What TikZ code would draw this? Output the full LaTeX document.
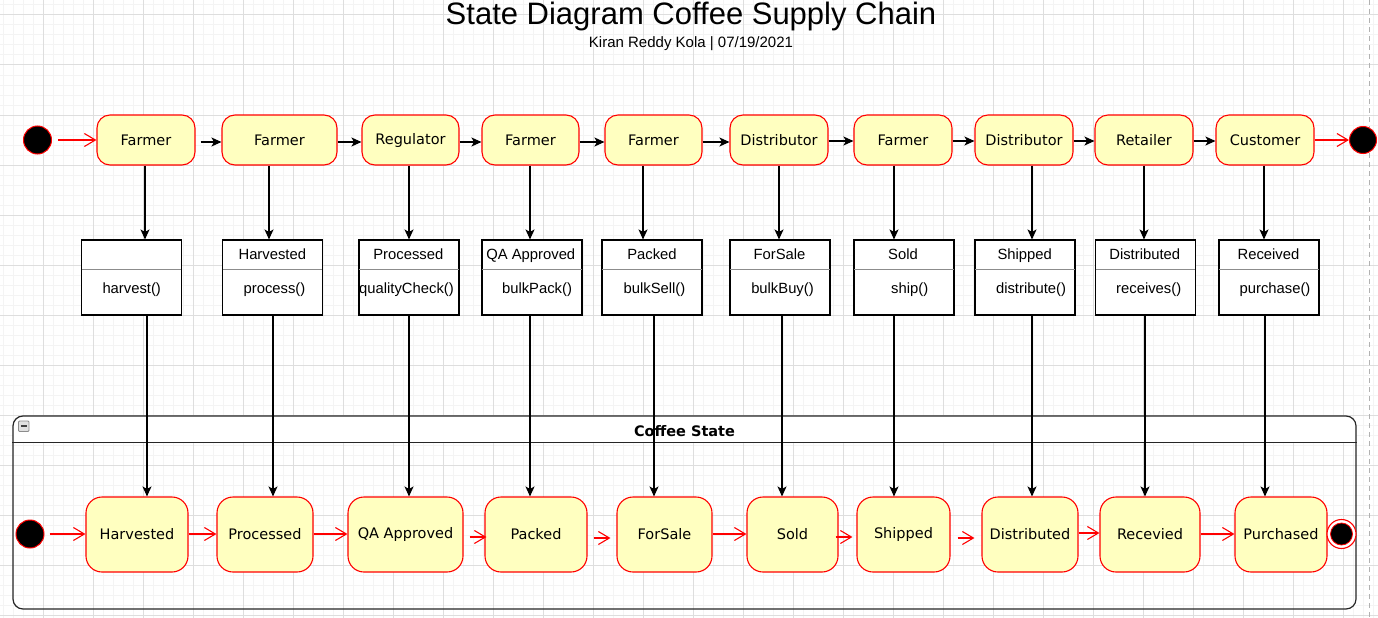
\documentclass[tikz,border=0pt]{standalone}
\usepackage{fontspec}
\setmainfont{DejaVu Sans}
\newfontfamily\arialf{Liberation Sans}
\usetikzlibrary{arrows.meta}
\definecolor{stfill}{HTML}{FFFFC0}
\definecolor{stred}{HTML}{FF0000}
\definecolor{gmin}{HTML}{F4F4F4}
\definecolor{gmaj}{HTML}{DEDEDE}
\tikzset{
 topst/.style={draw=stred, fill=stfill, rounded corners=13pt, line width=1.1pt, minimum height=50pt, inner sep=0pt, font=\fontsize{14.5}{17}\selectfont},
 botst/.style={draw=stred, fill=stfill, rounded corners=16pt, line width=1.1pt, minimum height=75pt, inner sep=0pt, font=\fontsize{14.5}{17}\selectfont},
 clsbox/.style={draw=black, fill=white, line width=1.1pt, minimum width=100pt, minimum height=75pt, inner sep=0pt},
 clstxt/.style={font=\arialf\fontsize{14.8}{17}\selectfont, inner sep=0pt, anchor=base},
 blk/.style={draw=black, line width=1.1pt, -{Stealth[length=10pt,width=9pt,inset=2.5pt]}},
 rarr/.style={draw=stred, line width=1.1pt, -{Straight Barb[length=11pt,width=13pt]}},
 initst/.style={circle, draw=stred, fill=black, line width=1pt, minimum size=28pt, inner sep=0pt},
}
\begin{document}
\begin{tikzpicture}[x=1pt,y=-1pt]
\useasboundingbox (0,0) rectangle (1378,618);
\fill[white] (0,0) rectangle (1378,618);
% grid
\foreach \x in {3.3,13.3,...,1375} \draw[gmin, line width=1pt] (\x,0) -- (\x,618);
\foreach \y in {5,15,...,618} \draw[gmin, line width=1pt] (0,\y) -- (1378,\y);
\foreach \x in {43.3,93.3,...,1375} \draw[gmaj, line width=1pt] (\x,0) -- (\x,618);
\foreach \y in {15,65,...,618} \draw[gmaj, line width=1pt] (0,\y) -- (1378,\y);
\draw[black!30, line width=1pt, dash pattern=on 5pt off 4pt] (1369,0) -- (1369,618);

% title
\node[font=\arialf\fontsize{31}{34}\selectfont, anchor=base, inner sep=0pt] (title) at (691,25) {State Diagram Coffee Supply Chain};
\node[font=\arialf\fontsize{15}{17}\selectfont, anchor=base, inner sep=0pt] (sub) at (691,47.5) {Kiran Reddy Kola | 07/19/2021};

% container
\fill[white] (13,443) [rounded corners=10pt] -- (13,416) -- (1356,416) [sharp corners] -- (1356,443) -- cycle;
\node[draw=black!85, rounded corners=10pt, line width=1.2pt, minimum width=1343pt, minimum height=193pt, inner sep=0pt] (cs) at (684.5,512.5) {};
\draw[black!85, line width=1.2pt] ([yshift=-27pt]cs.north west) -- ([yshift=-27pt]cs.north east);
\node[font=\bfseries\fontsize{14.5}{17}\selectfont, inner sep=0pt] (cstitle) at (684.5,431) {Coffee State};
\draw[draw=black!45, fill=black!12, rounded corners=1pt, line width=0.8pt] (18.5,421) rectangle (29,431.5);
\draw[black!75, line width=1.6pt] (20.8,426.2) -- (26.8,426.2);

% top row
\node[initst] (i1) at (37.5,140) {};
\node[topst, minimum width=98pt] (t1) at (146,140) {Farmer};
\node[topst, minimum width=115pt] (t2) at (279.5,140) {Farmer};
\node[topst, minimum width=97pt] (t3) at (410.5,140) {Regulator};
\node[topst, minimum width=97pt] (t4) at (530.5,140) {Farmer};
\node[topst, minimum width=97pt] (t5) at (653.5,140) {Farmer};
\node[topst, minimum width=98pt] (t6) at (779,140) {Distributor};
\node[topst, minimum width=98pt] (t7) at (903,140) {Farmer};
\node[topst, minimum width=98pt] (t8) at (1024,140) {Distributor};
\node[topst, minimum width=98pt] (t9) at (1144,140) {Retailer};
\node[topst, minimum width=98pt] (t10) at (1265,140) {Customer};
\node[initst, minimum size=27pt] (f1) at (1363,140) {};

\draw[rarr, shorten <=6pt] (i1) -- (t1);
\draw[blk, shorten <=5pt] ([yshift=-2pt]t1.east) -- ([yshift=-2pt]t2.west);
\draw[blk] ([yshift=-2pt]t2.east) -- ([yshift=-2pt]t3.west);
\draw[blk] ([yshift=-2pt]t3.east) -- ([yshift=-2pt]t4.west);
\draw[blk] ([yshift=-2pt]t4.east) -- ([yshift=-2pt]t5.west);
\draw[blk] ([yshift=-2pt]t5.east) -- ([yshift=-2pt]t6.west);
\draw[blk] ([yshift=-1pt]t6.east) -- ([yshift=-1pt]t7.west);
\draw[blk] ([yshift=-1pt]t7.east) -- ([yshift=-1pt]t8.west);
\draw[blk] ([yshift=-1pt]t8.east) -- ([yshift=-1pt]t9.west);
\draw[blk] ([yshift=-1pt]t9.east) -- ([yshift=-1pt]t10.west);
\draw[rarr] (t10) -- (f1);

% class boxes
\node[clsbox] (c1) at (131.5,277.5) {};
\node[clsbox] (c2) at (272.5,277.5) {};
\node[clsbox] (c3) at (409,277.5) {};
\node[clsbox] (c4) at (532,277.5) {};
\node[clsbox] (c5) at (652,277.5) {};
\node[clsbox] (c6) at (780,277.5) {};
\node[clsbox] (c7) at (904,277.5) {};
\node[clsbox] (c8) at (1025,277.5) {};
\node[clsbox] (c9) at (1145.5,277.5) {};
\node[clsbox] (c10) at (1269,277.5) {};
\foreach \c in {c1,c2,c3,c4,c5,c6,c7,c8,c9,c10}
  \draw[black!45, line width=1pt] ([yshift=-30pt,xshift=0.6pt]\c.north west) -- ([yshift=-30pt,xshift=-0.6pt]\c.north east);

\node[clstxt] (m1) at (131.7,293.5) {harvest()};
\node[clstxt] (n2) at (272.3,259) {Harvested};
\node[clstxt] (m2) at (274.5,293.5) {process()};
\node[clstxt] (n3) at (408.3,259) {Processed};
\node[clstxt] (m3) at (406.5,293.5) {qualityCheck()};
\node[clstxt] (n4) at (530.8,259) {QA Approved};
\node[clstxt] (m4) at (537,293.5) {bulkPack()};
\node[clstxt] (n5) at (652,259) {Packed};
\node[clstxt] (m5) at (654.5,293.5) {bulkSell()};
\node[clstxt] (n6) at (779.5,259) {ForSale};
\node[clstxt] (m6) at (782.5,293.5) {bulkBuy()};
\node[clstxt] (n7) at (903,259) {Sold};
\node[clstxt] (m7) at (909.7,293.5) {ship()};
\node[clstxt] (n8) at (1024.7,259) {Shipped};
\node[clstxt] (m8) at (1031,293.5) {distribute()};
\node[clstxt] (n9) at (1144.7,259) {Distributed};
\node[clstxt] (m9) at (1148.7,293.5) {receives()};
\node[clstxt] (n10) at (1268.5,259) {Received};
\node[clstxt] (m10) at (1275,293.5) {purchase()};

% top -> class
\draw[blk] ([xshift=-1pt]t1.south) -- ([xshift=13.5pt]c1.north);
\draw[blk] ([xshift=-10.5pt]t2.south) -- ([xshift=-3.5pt]c2.north);
\draw[blk] ([xshift=-1.5pt]t3.south) -- ([xshift=0pt]c3.north);
\draw[blk] ([xshift=-0.5pt]t4.south) -- ([xshift=-2pt]c4.north);
\draw[blk] ([xshift=-10.5pt]t5.south) -- ([xshift=-9pt]c5.north);
\draw[blk] ([xshift=0pt]t6.south) -- ([xshift=-1pt]c6.north);
\draw[blk] ([xshift=-9pt]t7.south) -- ([xshift=-10pt]c7.north);
\draw[blk] ([xshift=8pt]t8.south) -- ([xshift=7pt]c8.north);
\draw[blk] ([xshift=0pt]t9.south) -- ([xshift=-1.5pt]c9.north);
\draw[blk] ([xshift=-1pt]t10.south) -- ([xshift=-5pt]c10.north);

% bottom states
\node[initst] (i2) at (30,534) {};
\node[botst, minimum width=102pt] (b1) at (137,534.5) {Harvested};
\node[botst, minimum width=96pt] (b2) at (265,534.5) {Processed};
\node[botst, minimum width=115pt] (b3) at (405.5,534.5) {QA Approved};
\node[botst, minimum width=102pt] (b4) at (536,534.5) {Packed};
\node[botst, minimum width=95pt] (b5) at (664.5,534.5) {ForSale};
\node[botst, minimum width=91pt] (b6) at (792.5,534.5) {Sold};
\node[botst, minimum width=93pt] (b7) at (903.5,534.5) {Shipped};
\node[botst, minimum width=96pt] (b8) at (1030,534.5) {Distributed};
\node[botst, minimum width=100pt] (b9) at (1150,534.5) {Recevied};
\node[botst, minimum width=92pt] (b10) at (1281,534.5) {Purchased};
\node[circle, draw=stred, fill=white, line width=1.1pt, minimum size=29pt, inner sep=0pt] (fin2) at (1341.5,534) {};
\node[circle, draw=stred, fill=black, line width=0.8pt, minimum size=22pt, inner sep=0pt] (fin2in) at (1341.5,534) {};

% class -> bottom
\draw[blk] ([xshift=15.5pt]c1.south) -- ([xshift=10pt]b1.north);
\draw[blk] ([xshift=0.5pt]c2.south) -- ([xshift=8pt]b2.north);
\draw[blk] ([xshift=0pt]c3.south) -- ([xshift=3.5pt]b3.north);
\draw[blk] ([xshift=-2pt]c4.south) -- ([xshift=-6pt]b4.north);
\draw[blk] ([xshift=2pt]c5.south) -- ([xshift=-10.5pt]b5.north);
\draw[blk] ([xshift=2pt]c6.south) -- ([xshift=-10.5pt]b6.north);
\draw[blk] ([xshift=-10pt]c7.south) -- ([xshift=-9.5pt]b7.north);
\draw[blk] ([xshift=7pt]c8.south) -- ([xshift=2pt]b8.north);
\draw[blk] ([xshift=-0.5pt]c9.south) -- ([xshift=-5pt]b9.north);
\draw[blk] ([xshift=-4pt]c10.south) -- ([xshift=-16pt]b10.north);

% bottom transitions
\draw[rarr, shorten <=5pt] (i2) -- (i2 -| b1.west);
\draw[rarr] (b1.east |- i2) -- (b2.west |- i2);
\draw[rarr] (b2.east |- i2) -- (b3.west |- i2);
\draw[rarr, shorten <=6pt, shorten >=-2pt] ([yshift=-2.5pt]b3.east) -- ([yshift=-2.5pt]b4.west);
\draw[rarr, shorten <=6pt, shorten >=6pt] ([yshift=-3.5pt]b4.east) -- ([yshift=-3.5pt]b5.west);
\draw[rarr] (b5.east |- i2) -- (b6.west |- i2);
\draw[rarr, shorten <=-3pt, shorten >=4pt] ([yshift=-2.5pt]b6.east) -- ([yshift=-2.5pt]b7.west);
\draw[rarr, shorten <=7pt, shorten >=7pt] ([yshift=-3.5pt]b7.east) -- ([yshift=-3.5pt]b8.west);
\draw[rarr] ([yshift=1.5pt]b8.east) -- ([yshift=1.5pt]b9.west);
\draw[rarr] (b9.east |- i2) -- (b10.west |- i2);
\end{tikzpicture}
\end{document}
